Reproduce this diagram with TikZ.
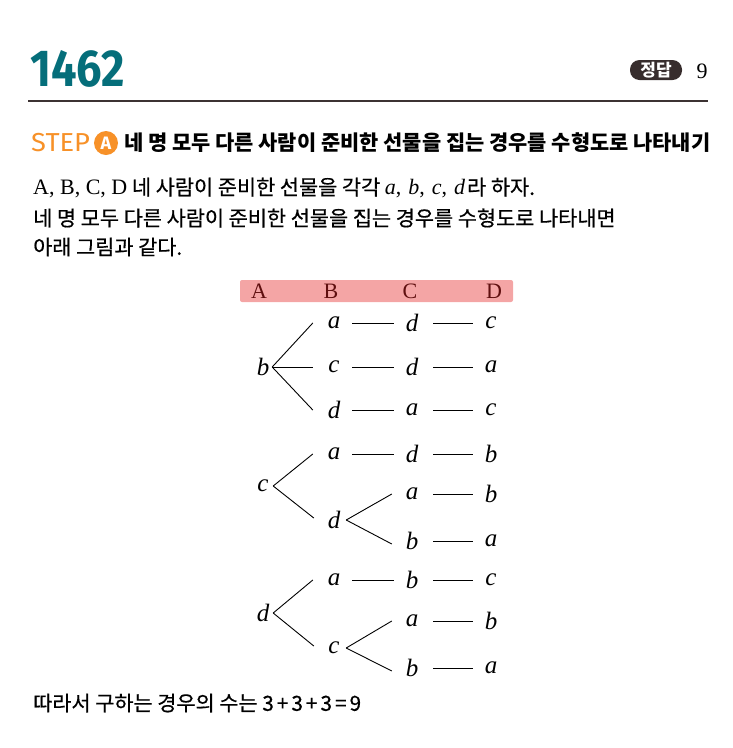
\documentclass[tikz,border=0pt]{standalone}
\usepackage{fontspec}
\setmainfont{Liberation Serif}
\newfontfamily\kr[FakeBold=0.6]{Noto Sans CJK KR}
\newfontfamily\krb{Noto Sans CJK KR}
\newfontfamily\fira{Fira Sans}
\usetikzlibrary{calc}
\definecolor{tealnum}{RGB}{5,110,122}
\definecolor{steporange}{RGB}{247,145,40}
\definecolor{bandpink}{RGB}{244,165,165}
\definecolor{labred}{RGB}{95,15,15}
\definecolor{pill}{RGB}{55,45,45}
\definecolor{rulecol}{RGB}{60,50,50}
\newcommand{\ser}[1]{{\rmfamily\fontsize{22}{24}\selectfont #1}}
\newcommand{\sit}[1]{{\rmfamily\itshape\fontsize{22}{24}\selectfont #1}}
\begin{document}
\begin{tikzpicture}[x=1pt,y=-1pt,
  krtext/.style={anchor=west,inner sep=0,font=\kr\fontsize{20.8}{24}\selectfont},
  tn/.style={inner sep=0,minimum width=14pt,font=\fontsize{25}{27}\selectfont\itshape},
  hd/.style={inner sep=0,font=\fontsize{22}{24}\selectfont,text=labred},
  lnk/.style={line width=0.9pt,shorten <=11pt,shorten >=11pt},
  br/.style={line width=0.9pt}]
\useasboundingbox (0,0) rectangle (732,748);
% title number
\node[anchor=west,inner sep=0,text=tealnum,font=\fira\bfseries\fontsize{52}{56}\selectfont,xscale=0.87] (num) at (30,69) {1462};
\draw[rulecol,line width=1.6pt] (28,101) -- (708,101);
% answer pill
\node[fill=pill,rounded corners=9.5pt,minimum width=52pt,minimum height=20pt,inner sep=0,text=white,font=\krb\bfseries\fontsize{17}{18}\selectfont] (pill) at (656,70) {정답};
\node[inner sep=0,font=\fontsize{22}{24}\selectfont] (ans) at (702,71) {9};
% step
\node[anchor=west,inner sep=0,text=steporange,font=\fira\fontsize{26}{28}\selectfont,xscale=1.05] (step) at (31,143) {STEP};
\node[circle,fill=steporange,minimum size=24pt,inner sep=0,text=white,font=\fira\bfseries\fontsize{18}{18}\selectfont] (stepa) at (106,143) {A};
\node[anchor=west,inner sep=0,font=\krb\bfseries\fontsize{20.9}{24}\selectfont] (steptitle) at (124,143) {네 명 모두 다른 사람이 준비한 선물을 집는 경우를 수형도로 나타내기};
% body
\node[krtext] (l1) at (33,188) {\ser{A, B, C, D} 네 사람이 준비한 선물을 각각 \sit{a}\ser{,}\hspace{7pt}\sit{b}\ser{,}\hspace{7pt}\sit{c}\ser{,}\hspace{7pt}\sit{d}\hspace{2pt}라 하자.};
\node[krtext] (l2) at (33,218) {네 명 모두 다른 사람이 준비한 선물을 집는 경우를 수형도로 나타내면};
\node[krtext] (l3) at (33,247) {아래 그림과 같다.};
% header band
\node[fill=bandpink,minimum width=273pt,minimum height=22pt,inner sep=0,rounded corners=2pt] (band) at (376.5,291) {};
\node[hd] (hA) at (259,291) {A};
\node[hd] (hB) at (331,291) {B};
\node[hd] (hC) at (410,291) {C};
\node[hd] (hD) at (494,291) {D};
% tree: group b
\node[tn] (r1) at (263,367) {b};
\node[tn] (b1) at (334,323) {a};
\node[tn] (b2) at (334,367) {c};
\node[tn] (b3) at (334,410) {d};
\node[tn] (c1) at (412,323) {d};
\node[tn] (c2) at (412,367) {d};
\node[tn] (c3) at (412,410) {a};
\node[tn] (d1) at (491,323) {c};
\node[tn] (d2) at (491,367) {a};
\node[tn] (d3) at (491,410) {c};
% group c
\node[tn] (r2) at (263,486) {c};
\node[tn] (b4) at (334,454) {a};
\node[tn] (b5) at (334,520) {d};
\node[tn] (c4) at (412,454) {d};
\node[tn] (c5) at (412,494) {a};
\node[tn] (c6) at (412,541) {b};
\node[tn] (d4) at (491,454) {b};
\node[tn] (d5) at (491,494) {b};
\node[tn] (d6) at (491,541) {a};
% group d
\node[tn] (r3) at (263,613) {d};
\node[tn] (b6) at (334,580) {a};
\node[tn] (b7) at (334,648) {c};
\node[tn] (c7) at (412,580) {b};
\node[tn] (c8) at (412,621) {a};
\node[tn] (c9) at (412,668) {b};
\node[tn] (d7) at (491,580) {c};
\node[tn] (d8) at (491,621) {b};
\node[tn] (d9) at (491,668) {a};
% branches
\draw[br] ($(r1.east)+(2,0)$) -- ($(b1.west)+(-14,0)$);
\draw[br] ($(r1.east)+(2,0)$) -- ($(b2.west)+(-14,0)$);
\draw[br] ($(r1.east)+(2,0)$) -- ($(b3.west)+(-14,0)$);
\draw[br] ($(r2.east)+(3,0)$) -- ($(b4.west)+(-14,0)$);
\draw[br] ($(r2.east)+(3,0)$) -- ($(b5.west)+(-13,-2)$);
\draw[br] ($(r3.east)+(3,0)$) -- ($(b6.west)+(-14,0)$);
\draw[br] ($(r3.east)+(3,0)$) -- ($(b7.west)+(-13,-2)$);
\draw[br] ($(b5.east)+(5,0)$) -- ($(c5.west)+(-13,0)$);
\draw[br] ($(b5.east)+(5,0)$) -- ($(c6.west)+(-13,3)$);
\draw[br] ($(b7.east)+(5,0)$) -- ($(c8.west)+(-13,0)$);
\draw[br] ($(b7.east)+(5,0)$) -- ($(c9.west)+(-13,3)$);
% dashes
\foreach \u/\v in {b1/c1,b2/c2,b3/c3,b4/c4,b6/c7}{\draw[lnk] (\u.east) -- (\v.west);}
\foreach \u/\v in {c1/d1,c2/d2,c3/d3,c4/d4,c5/d5,c6/d6,c7/d7,c8/d8,c9/d9}{\draw[lnk,shorten <=14pt] (\u.east) -- (\v.west);}
% conclusion
\node[krtext] (concl) at (33,703) {따라서 구하는 경우의 수는 3\hspace{3pt}+\hspace{3pt}3\hspace{3pt}+\hspace{3pt}3\hspace{3pt}=\hspace{3pt}9};
\end{tikzpicture}
\end{document}
